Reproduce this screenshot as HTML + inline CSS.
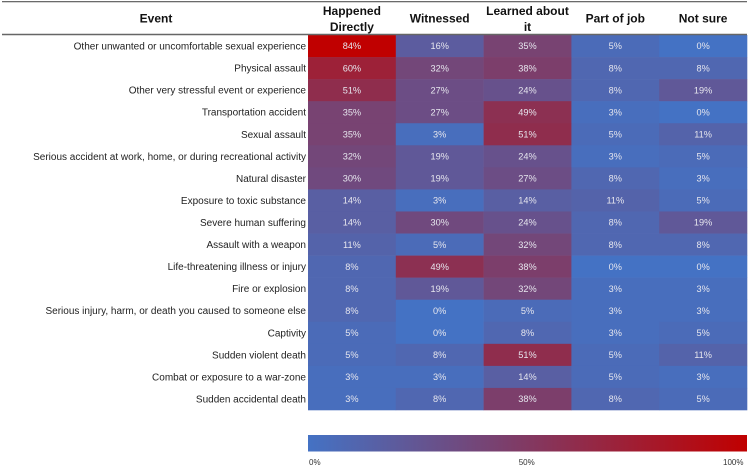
<!DOCTYPE html>
<html lang="en">
<head>
<meta charset="utf-8">
<title>Traumatic event exposure heatmap</title>
<style>
html,body{margin:0;padding:0;background:#fff;}
svg{display:block;font-family:"Liberation Sans",Arial,sans-serif;}
</style>
</head>
<body>
<svg id="chart" width="750" height="471" viewBox="0 0 750 471" xmlns="http://www.w3.org/2000/svg">
  <defs>
    <linearGradient id="legend-gradient" x1="0" x2="1" y1="0" y2="0">
      <stop offset="0" stop-color="#4472c4"></stop>
      <stop offset="1" stop-color="#c00000"></stop>
    </linearGradient>
  </defs>
  <g id="cells"></g>
  <g id="rowlabels"></g>
  <g id="headers"></g>
  <line x1="2" x2="747" y1="1.7" y2="1.7" stroke="#555" stroke-width="1.2"></line>
  <line x1="2" x2="747" y1="34.5" y2="34.5" stroke="#666" stroke-width="1.4"></line>
  <rect x="308" y="435" width="439" height="16.5" fill="url(#legend-gradient)"></rect>
  <g id="legend"></g>
</svg>
<script>
const events = [
  "Other unwanted or uncomfortable sexual experience",
  "Physical assault",
  "Other very stressful event or experience",
  "Transportation accident",
  "Sexual assault",
  "Serious accident at work, home, or during recreational activity",
  "Natural disaster",
  "Exposure to toxic substance",
  "Severe human suffering",
  "Assault with a weapon",
  "Life-threatening illness or injury",
  "Fire or explosion",
  "Serious injury, harm, or death you caused to someone else",
  "Captivity",
  "Sudden violent death",
  "Combat or exposure to a war-zone",
  "Sudden accidental death"
];
const happenedDirectly = [84,60,51,35,35,32,30,14,14,11,8,8,8,5,5,3,3];
const witnessed = [16,32,27,27,3,19,19,3,30,5,49,19,0,0,8,3,8];
const learnedAboutIt = [35,38,24,49,51,24,27,14,24,32,38,32,5,8,51,14,38];
const partOfJob = [5,8,8,3,5,3,8,11,8,8,0,3,3,3,5,5,8];
const notSure = [0,8,19,0,11,5,3,5,19,8,0,3,3,5,11,3,5];
const colorDomainMax = 84;
const legendTicks = [0,50,100];

const NS = "http://www.w3.org/2000/svg";
const series = [happenedDirectly, witnessed, learnedAboutIt, partOfJob, notSure];
const headerLines = [["Happened","Directly"],["Witnessed"],["Learned about","it"],["Part of job"],["Not sure"]];
const gridLeft = 308, gridRight = 747, gridTop = 35, gridBottom = 410;
const colW = (gridRight - gridLeft) / series.length;
const rowH = (gridBottom - gridTop) / events.length;
const xPos = i => gridLeft + i * colW;
const yPos = i => gridTop + i * rowH;
const legendX = v => 308 + v / 100 * 439;

function color(v) {
  const t = Math.min(1, v / colorDomainMax);
  const mix = (a, b) => Math.round(a + (b - a) * t);
  return "rgb(" + mix(0x44, 0xc0) + "," + mix(0x72, 0) + "," + mix(0xc4, 0) + ")";
}
function svgText(parent, x, y, str, size, fill, anchor, weight) {
  const t = document.createElementNS(NS, "text");
  t.setAttribute("x", x);
  t.setAttribute("y", y);
  t.setAttribute("font-size", size);
  t.setAttribute("fill", fill);
  t.setAttribute("text-anchor", anchor);
  if (weight) t.setAttribute("font-weight", weight);
  t.textContent = str;
  parent.appendChild(t);
  return t;
}

const cellsG = document.getElementById("cells");
const rowsG = document.getElementById("rowlabels");
const headG = document.getElementById("headers");
const legG = document.getElementById("legend");

events.forEach((name, r) => {
  const label = svgText(rowsG, 306, yPos(r) + rowH / 2 + 3.5, name, 10, "#222", "end");
  
  
  series.forEach((vals, c) => {
    const rect = document.createElementNS(NS, "rect");
    rect.setAttribute("x", xPos(c));
    rect.setAttribute("y", yPos(r));
    rect.setAttribute("width", colW + 0.3);
    rect.setAttribute("height", rowH + 0.3);
    rect.setAttribute("fill", color(vals[r]));
    
    
    cellsG.appendChild(rect);
    const val = svgText(cellsG, xPos(c) + colW / 2, yPos(r) + rowH / 2 + 3.2, vals[r] + "%", 9.2, "#e6e6ee", "middle");
    
    
  });
});

const eventHead = svgText(headG, 156, 22.7, "Event", 12, "#111", "middle", "bold");


headerLines.forEach((lines, c) => {
  lines.forEach((line, i) => {
    const y = lines.length === 1 ? 22.7 : 15 + i * 16;
    const h = svgText(headG, xPos(c) + colW / 2, y, line, 12, "#111", "middle", "bold");
    
    
  });
});

legendTicks.forEach(v => {
  const anchor = v === 0 ? "start" : v === 100 ? "end" : "middle";
  const nudge = v === 0 ? 1 : v === 100 ? -3.5 : -0.8;
  const t = svgText(legG, legendX(v) + nudge, 465, v + "%", 8, "#333", anchor);
  
  
});
</script>
</body>
</html>
